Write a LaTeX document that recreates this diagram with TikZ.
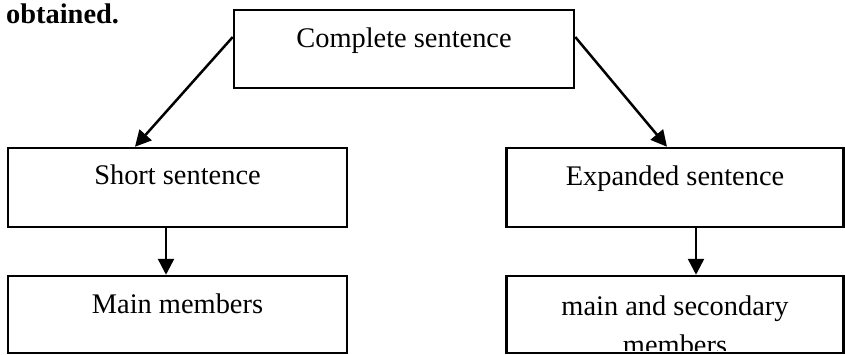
\documentclass[tikz,border=0pt]{standalone}
\usepackage{fontspec}
\setmainfont{Liberation Serif}
\usetikzlibrary{arrows.meta}
\tikzset{
  box/.style={draw=black, line width=2.5pt, rectangle, inner sep=0pt},
  lbl/.style={inner sep=0pt, anchor=base, font=\fontsize{28.4}{35}\selectfont},
  arr/.style={line width=2.5pt, -{Triangle[length=16pt,width=16pt]}}
}
\begin{document}
\begin{tikzpicture}[x=1pt,y=-1pt]
\useasboundingbox (0,0) rectangle (845,354);
% boxes
\node[box, minimum width=340pt, minimum height=78pt] (top) at (404,49) {};
\node[box, minimum width=339pt, minimum height=79pt] (short) at (177.5,187.5) {};
\node[box, minimum width=337pt, minimum height=79pt] (exp) at (675,187.5) {};
\node[box, minimum width=339pt, minimum height=77pt] (mainm) at (177.5,314.5) {};
\node[box, minimum width=337pt, minimum height=77pt] (mainsec) at (675,314.5) {};
% labels
\node[lbl, font=\fontsize{28.4}{35}\selectfont\bfseries, anchor=base west] (obt) at (6,23) {obtained.};
\node[lbl] (ttop) at (404,47) {Complete sentence};
\node[lbl] (tshort) at (177.5,184) {Short sentence};
\node[lbl] (texp) at (675,185) {Expanded sentence};
\node[lbl] (tmain) at (177.5,313) {Main members};
\begin{scope}
\clip (507,277) rectangle (843,350.5);
\node[lbl, align=center, font=\fontsize{28.4}{39}\selectfont] (tsec) at (675,354) {main and secondary\\members};
\end{scope}
% connectors
\draw[arr] ([yshift=12pt]top.west) -- ([xshift=-42.5pt]short.north);
\draw[arr] ([yshift=12pt]top.east) -- ([xshift=-8pt]exp.north);
\draw[arr] ([xshift=-11.5pt]short.south) -- ([xshift=-11.5pt]mainm.north);
\draw[arr] ([xshift=21pt]exp.south) -- ([xshift=21pt]mainsec.north);
\end{tikzpicture}
\end{document}
